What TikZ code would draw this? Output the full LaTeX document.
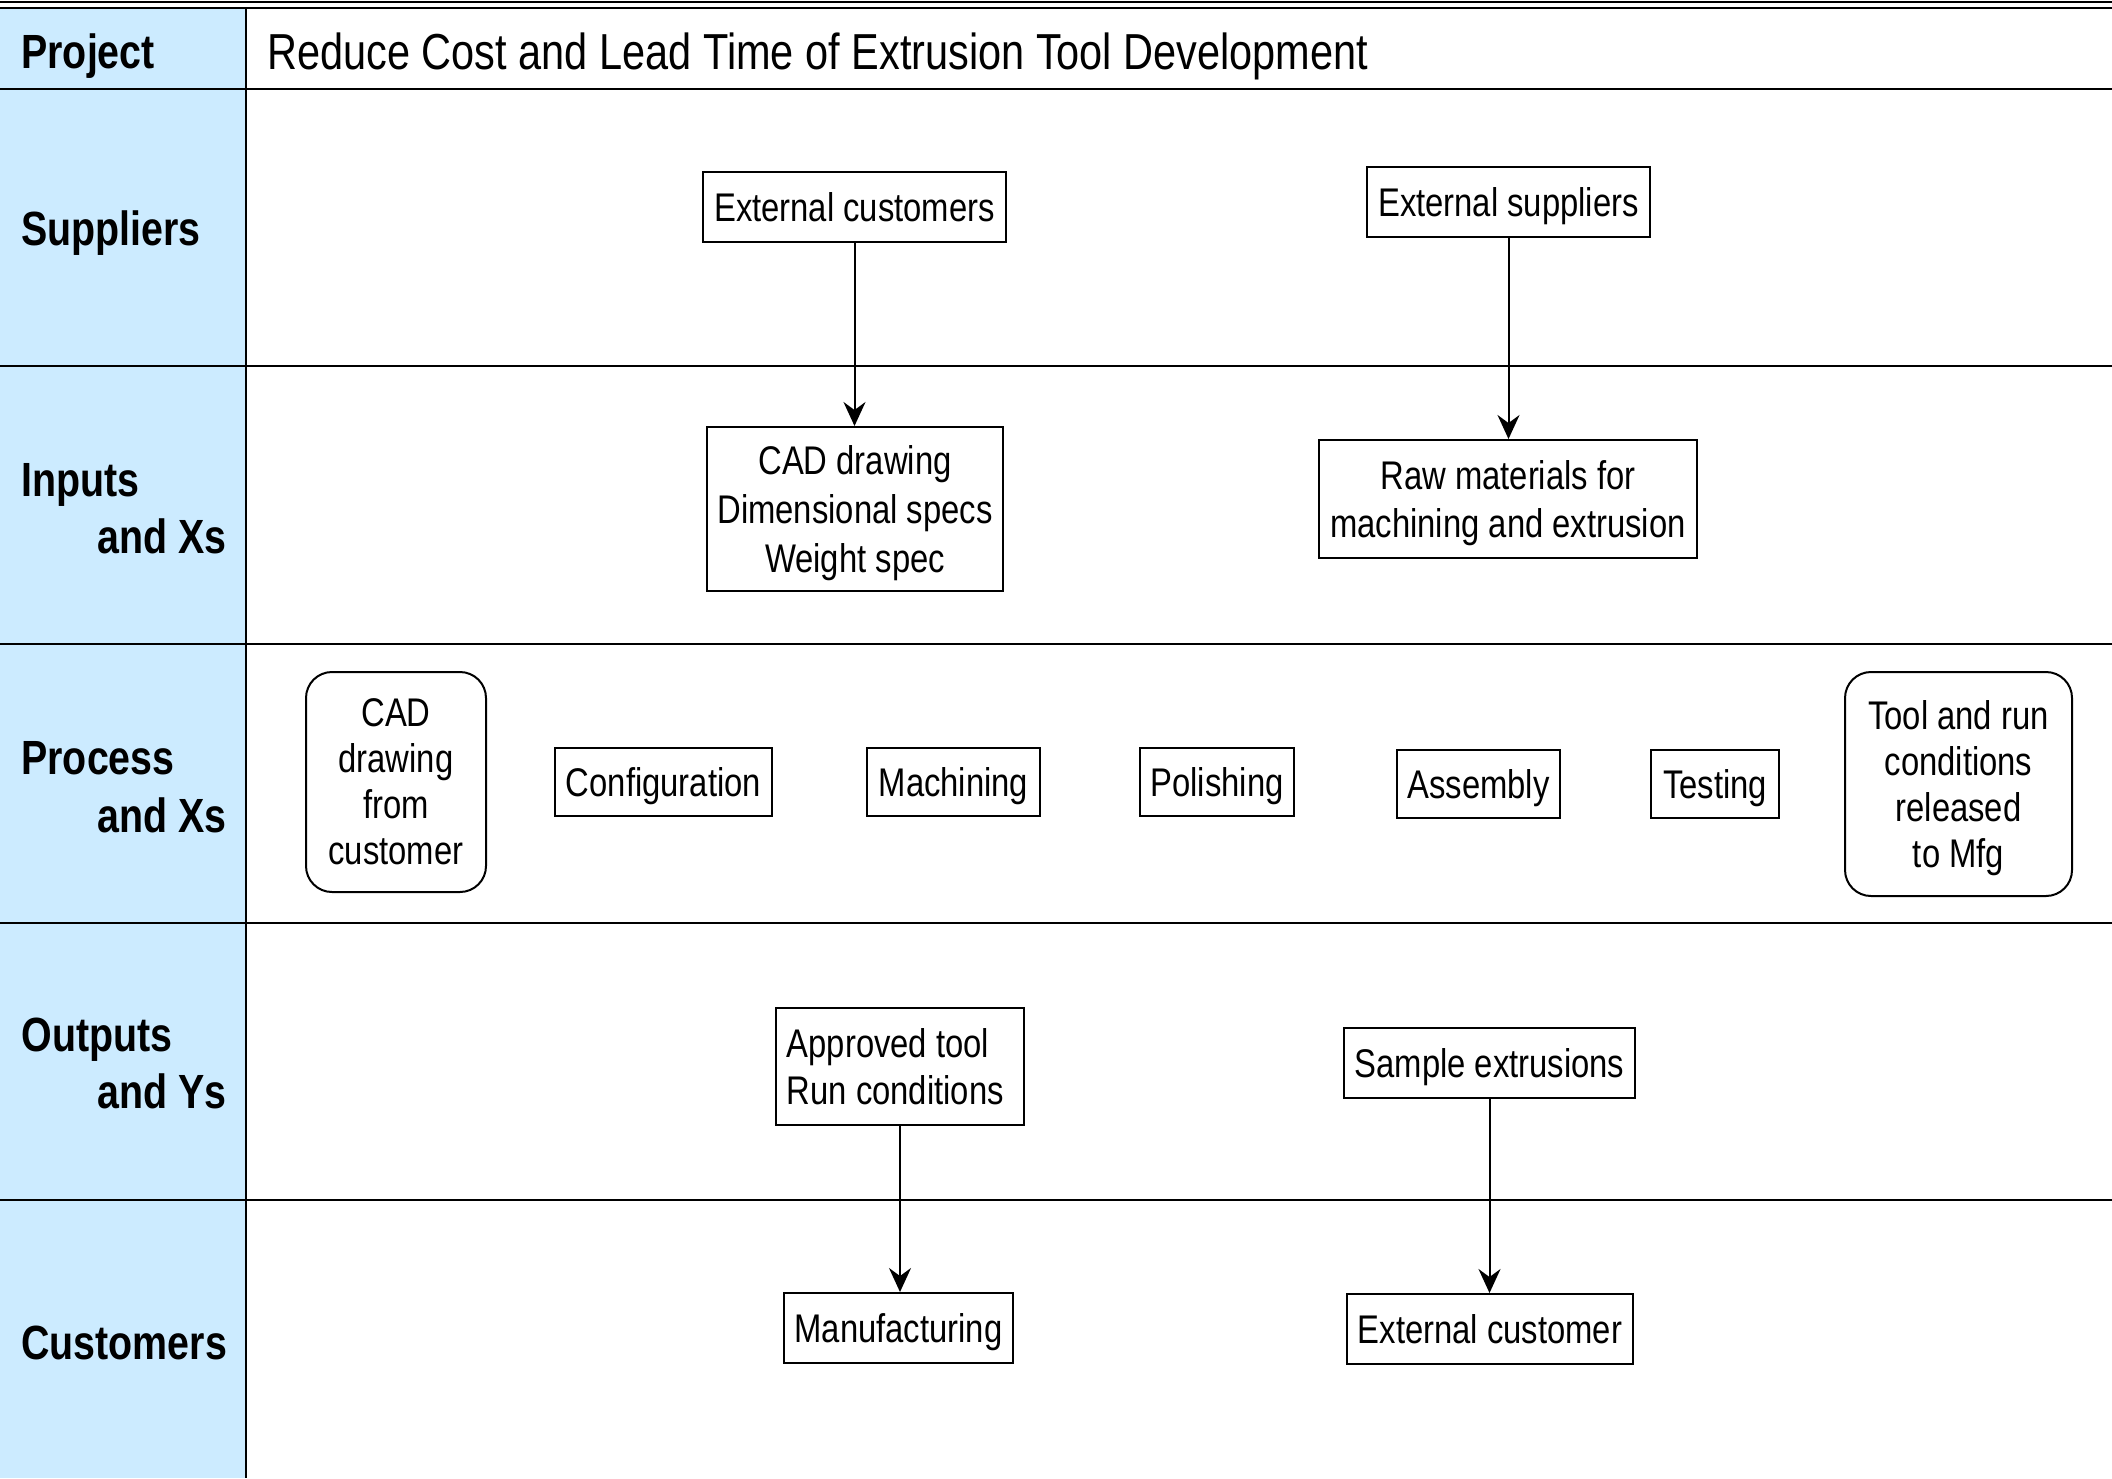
\documentclass[tikz,border=0pt]{standalone}
\usepackage{fontspec}
\setmainfont{Liberation Sans}[FakeStretch=0.82]
\usetikzlibrary{arrows.meta}
\definecolor{lane}{RGB}{204,235,255}
% last line of a multi-line box: keep its descenders out of the centring
\newcommand\lastln[1]{\raisebox{0pt}[\height][0pt]{#1}}
\begin{document}
\begin{tikzpicture}[x=0.5pt,y=-0.5pt,
  rowline/.style={line width=1.3pt,black},
  boxtxt/.style={font=\fontsize{20}{23.5}\selectfont},
  item/.style={draw,line width=1pt,boxtxt,align=center,inner sep=2pt},
  oneline/.style={item,text depth=0pt},
  rounditem/.style={item,rounded corners=13pt},
  lanelabel/.style={font=\bfseries\fontsize{24}{28}\selectfont,inner sep=0pt},
  flow/.style={line width=1pt,-{Stealth[length=12pt,width=11pt,inset=4pt]}}]
\useasboundingbox (0,0) rectangle (2112,1478);
% left column and frame
\fill[lane] (0,8) rectangle (246,1478);
\draw[line width=1.3pt] (0,2) -- (2112,2);
\draw[line width=1.3pt] (0,8) -- (2112,8);
\foreach \yy in {89,366,644,923,1200}
  \draw[rowline] (0,\yy) -- (2112,\yy);
\draw[rowline] (246,8) -- (246,1478);
% header
\node[lanelabel,anchor=base west] (lproj) at (21,68) {Project};
\node[font=\fontsize{25.3}{30}\selectfont,inner sep=0pt,anchor=base west] (title) at (267,69)
  {Reduce Cost and Lead Time of Extrusion Tool Development};
% lane labels
\node[lanelabel,anchor=base west] (lsup) at (21,245) {Suppliers};
\node[lanelabel,anchor=base west] (lin1) at (21,496) {Inputs};
\node[lanelabel,anchor=base east] (lin2) at (227,553) {and Xs};
\node[lanelabel,anchor=base west] (lpr1) at (21,774) {Process};
\node[lanelabel,anchor=base east] (lpr2) at (227,832) {and Xs};
\node[lanelabel,anchor=base west] (lout1) at (21,1051) {Outputs};
\node[lanelabel,anchor=base east] (lout2) at (227,1108) {and Ys};
\node[lanelabel,anchor=base west] (lcus) at (21,1359) {Customers};
% suppliers
\node[oneline,minimum width=151.5pt,minimum height=35pt] (extc) at (854.5,207) {External customers};
\node[oneline,minimum width=141.5pt,minimum height=35pt] (exts) at (1508.5,202) {External suppliers};
% inputs
\node[item,font=\fontsize{20}{24.3}\selectfont,minimum width=148pt,minimum height=82pt] (cadin) at (855,509)
  {CAD drawing\\Dimensional specs\\\lastln{Weight spec}};
\node[item,font=\fontsize{20}{24.3}\selectfont,minimum width=189pt,minimum height=59pt] (raw) at (1508,499)
  {Raw materials for\\\lastln{machining and extrusion}};
% process steps
\node[rounditem,font=\fontsize{20}{23}\selectfont,minimum width=90pt,minimum height=110pt] (cadc) at (396,782)
  {CAD\\drawing\\from\\customer};
\node[oneline,minimum width=108.5pt,minimum height=34pt] (conf) at (663.5,782) {Configuration};
\node[oneline,minimum width=86.5pt,minimum height=34pt] (mach) at (953.5,782) {Machining};
\node[oneline,minimum width=77pt,minimum height=34pt] (pol) at (1217,782) {Polishing};
\node[oneline,minimum width=81.5pt,minimum height=34pt] (asm) at (1478.5,783.5) {Assembly};
\node[oneline,minimum width=64pt,minimum height=34pt] (test) at (1715,783.5) {Testing};
\node[rounditem,font=\fontsize{20}{23}\selectfont,minimum width=113.5pt,minimum height=112pt] (tool) at (1958.5,784)
  {Tool and run\\conditions\\released\\\lastln{to Mfg}};
% outputs
\node[item,align=flush left,text width=113.2pt,inner xsep=5.4pt,minimum height=58.5pt] (appr) at (900,1066.5)
  {Approved tool\\Run conditions};
\node[oneline,minimum width=145.5pt,minimum height=35pt] (samp) at (1489.5,1063) {Sample extrusions};
% customers
\node[oneline,minimum width=114.5pt,minimum height=35pt] (mfg) at (898.5,1328) {Manufacturing};
\node[oneline,minimum width=143pt,minimum height=35pt] (extcu) at (1490,1329) {External customer};
% connectors
\draw[flow] (extc.south) -- (extc.south |- cadin.north);
\draw[flow] (exts.south) -- (exts.south |- raw.north);
\draw[flow] (appr.south) -- (appr.south |- mfg.north);
\draw[flow] (samp.south) -- (samp.south |- extcu.north);
\end{tikzpicture}
\end{document}
